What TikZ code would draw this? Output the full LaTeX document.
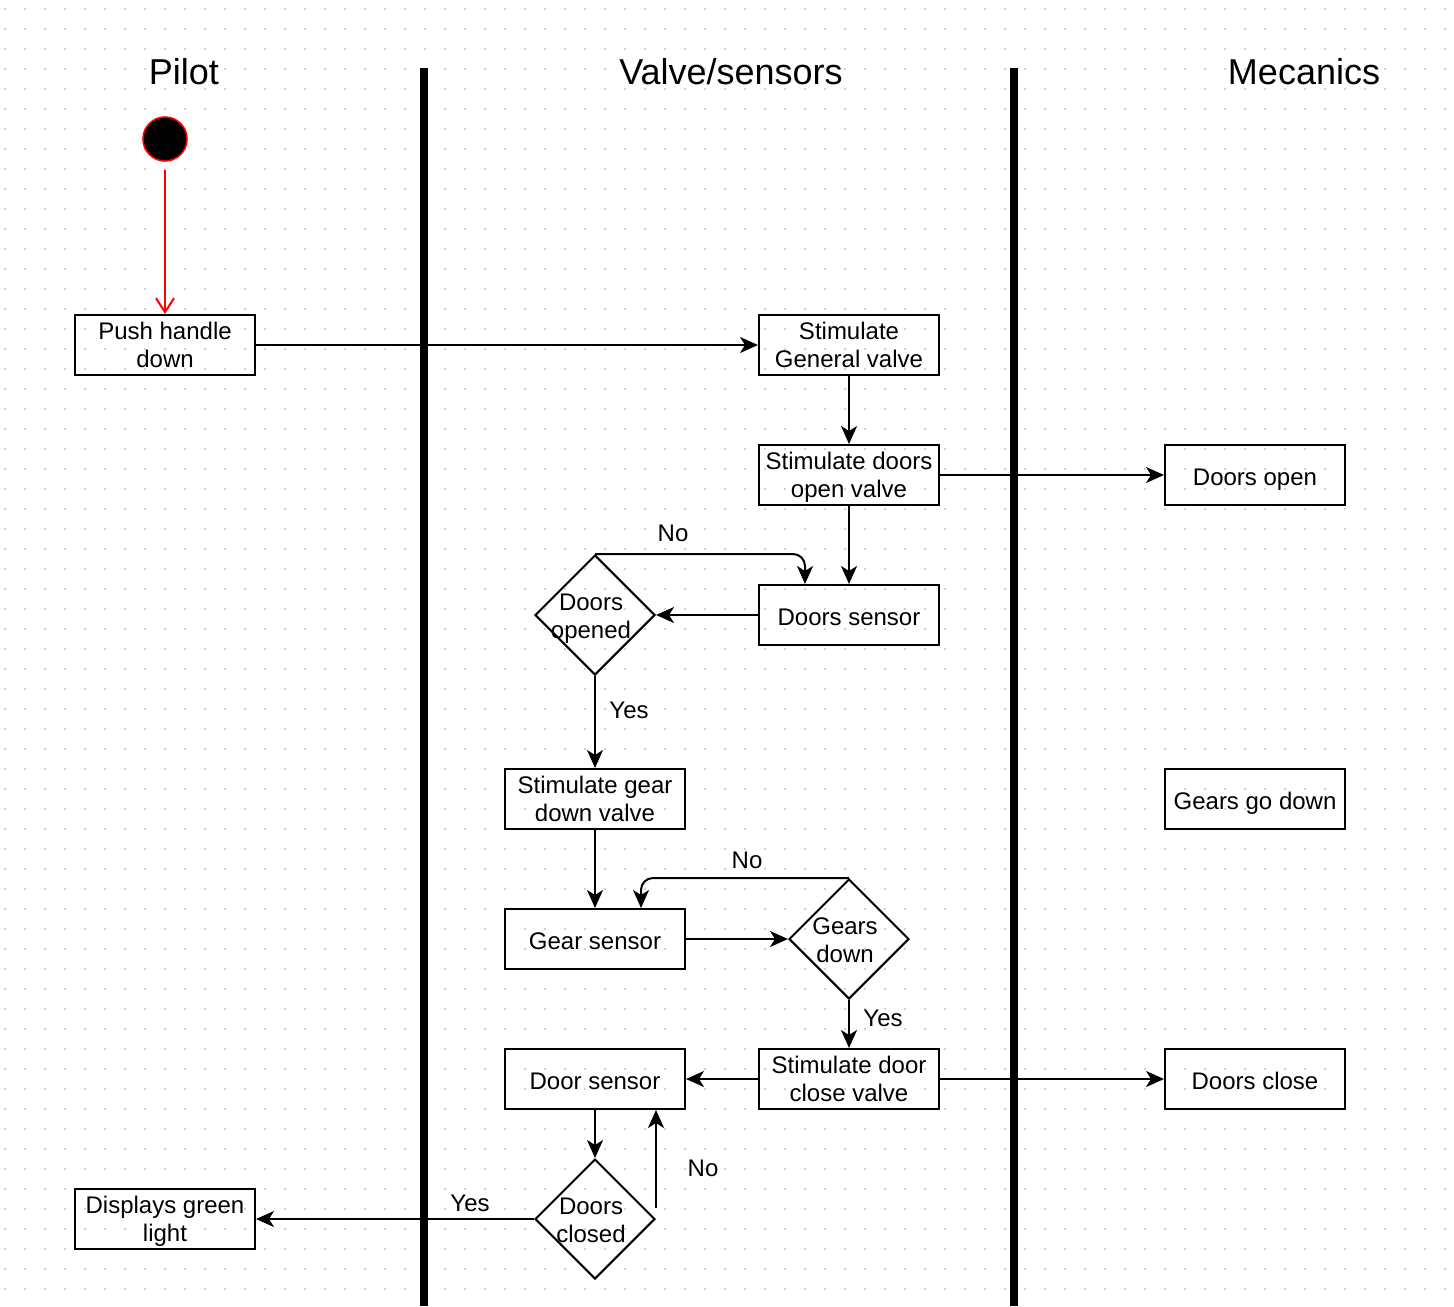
\documentclass[tikz,border=0pt]{standalone}
\usepackage{fontspec}
\setmainfont{Liberation Sans}
\usetikzlibrary{calc,arrows.meta,shapes}
\tikzset{
    block/.style = {draw, rectangle, line width=1pt,
        minimum height=30pt, text depth=0pt,
        minimum width=90pt, align=center, inner sep=0pt},
    single/.style = {text height=10pt, text depth=0pt},
    decision/.style = {draw, diamond, line width=1pt, aspect=1,
        minimum width=60pt, minimum height=60pt, inner sep=0pt},
    inside/.style = {align=center, xshift=-2pt, yshift=-2pt, text depth=2.6pt,
        font=\fontsize{12pt}{14pt}\selectfont},
    title/.style = {font=\fontsize{18pt}{20pt}\selectfont},
    arrow/.style = {draw, line width=1pt, -{Stealth[length=9pt,width=8pt,inset=2.5pt]}},
    lane/.style = {draw, line width=4pt},
    start/.style = {draw=red, fill=black, circle, line width=0.8pt, minimum size=22pt, inner sep=0pt},
    griddots/.style = {draw=black!18, line width=1pt, dash pattern=on 1pt off 9pt}
}
\begin{document}
\begin{tikzpicture}[x=0.5pt, y=-0.5pt, node distance=70pt,
    every node/.append style={font=\fontsize{12pt}{14pt}\selectfont}]
        \useasboundingbox (0,0) rectangle (1454,1306);
        % background dots
        \foreach \y in {9,29,...,1306}
            \draw[griddots] (4,\y) -- (1454,\y);
        % lanes
        \node [title] (pilot) at (184,72) {Pilot};
        \node [title] (valves) at (731,72) {Valve/sensors};
        \node [title] (mecanics) at (1304,72) {Mecanics};
        \draw [lane] (424,68) -- (424,1306);
        \draw [lane] (1014,68) -- (1014,1306);
        % nodes
        \node [start] (init) at (165,139) {};
        \node [block] (push) at (165,345) {Push handle\\down};
        \node [block, right of=push, node distance=342pt] (genvalve) {Stimulate\\General valve};
        \node [block, below of=genvalve, node distance=65pt] (openvalve) {Stimulate doors\\open valve};
        \node [block, single, right of=openvalve, node distance=203pt] (doorsopen) {Doors open};
        \node [block, single, below of=openvalve] (doorssensor) {Doors sensor};
        \node [decision, left of=doorssensor, node distance=127pt,
            label={[inside]center:Doors\\opened}] (opened) {};
        \node [block, below of=opened, node distance=92pt] (gearvalve) {Stimulate gear\\down valve};
        \node [block, single, right of=gearvalve, node distance=330pt] (gearsgodown) {Gears go down};
        \node [block, single, below of=gearvalve] (gearsensor) {Gear sensor};
        \node [decision, right of=gearsensor, node distance=127pt,
            label={[inside]center:Gears\\down}] (gearsdown) {};
        \node [block, below of=gearsdown] (closevalve) {Stimulate door\\close valve};
        \node [block, single, left of=closevalve, node distance=127pt] (doorsensor) {Door sensor};
        \node [block, single, right of=closevalve, node distance=203pt] (doorsclose) {Doors close};
        \node [decision, below of=doorsensor,
            label={[inside]center:Doors\\closed}] (closed) {};
        \node [block, left of=closed, node distance=215pt] (green) {Displays green\\light};
        % connectors
        \draw [red, line width=1pt, shorten <=4pt, -{Straight Barb[length=7pt,width=9pt]}] (init) -- (push);
        \draw [arrow] (push) -- (genvalve);
        \draw [arrow] (genvalve) -- (openvalve);
        \draw [arrow] (openvalve) -- (doorsopen);
        \draw [arrow] (openvalve) -- (doorssensor);
        \draw [arrow] (doorssensor) -- (opened);
        \draw [arrow, rounded corners=6pt] (opened.north) -- ($(doorssensor.north)+(-44,-30)$) -- ($(doorssensor.north)+(-44,0)$);
        \node (no1) at (673,533) {No};
        \draw [arrow] (opened) -- (gearvalve);
        \node (yes1) at (629,710) {Yes};
        \draw [arrow] (gearvalve) -- (gearsensor);
        \draw [arrow] (gearsensor) -- (gearsdown);
        \draw [arrow, rounded corners=6pt] (gearsdown.north) -- ($(gearsensor.north)+(46,-30)$) -- ($(gearsensor.north)+(46,0)$);
        \node (no2) at (747,860) {No};
        \draw [arrow] (gearsdown) -- (closevalve);
        \node (yes2) at (883,1018) {Yes};
        \draw [arrow] (closevalve) -- (doorsensor);
        \draw [arrow] (closevalve) -- (doorsclose);
        \draw [arrow] (doorsensor) -- (closed);
        \coordinate (back) at ($(closed.east)+(0,-11)$);
        \draw [arrow] (back) -- (back |- doorsensor.south);
        \node (no3) at (703,1168) {No};
        \draw [arrow] (closed) -- (green);
        \node (yes3) at (470,1203) {Yes};
    \end{tikzpicture}
\end{document}
